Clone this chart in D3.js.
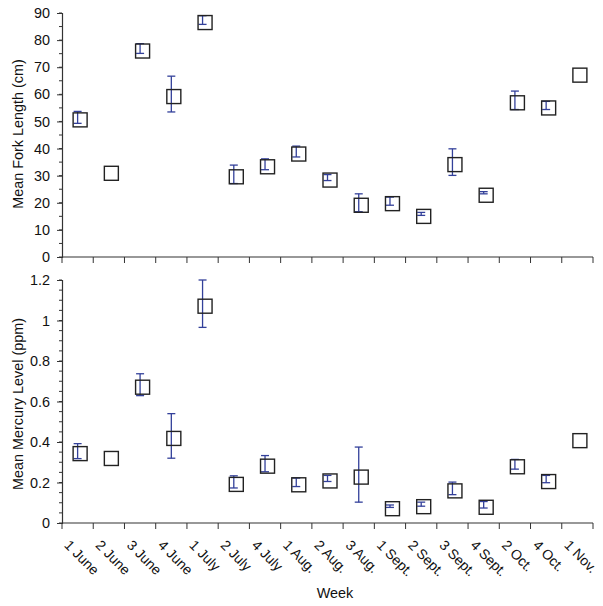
<!DOCTYPE html>
<html><head><meta charset="utf-8">
<script src="https://cdn.jsdelivr.net/npm/d3@7"></script>
<style>
body{margin:0;background:#fff;}
text{font-family:"Liberation Sans",Arial,sans-serif;fill:#111;}
</style></head>
<body><svg id="c" width="603" height="606"></svg>
<script>
const weeks = ["1 June","2 June","3 June","4 June","1 July","2 July","4 July","1 Aug.","2 Aug.","3 Aug.","1 Sept.","2 Sept.","3 Sept.","4 Sept.","2 Oct.","4 Oct.","1 Nov."];
const forkLength = [51.5,31.8,76.9,60.1,87.4,30.5,34.2,38.9,29.3,20.0,20.6,15.9,35.0,23.7,57.8,55.9,68.0];
const forkLengthErr = [2.2,null,1.8,6.6,1.6,3.4,2.0,2.0,1.1,3.3,1.5,0.55,4.9,0.4,3.4,1.5,null];
const mercury = [0.355,0.331,0.683,0.43,1.083,0.203,0.293,0.201,0.220,0.239,0.083,0.093,0.171,0.090,0.290,0.217,0.419];
const mercuryErr = [0.037,null,0.054,0.11,0.117,0.03,0.04,0.021,0.015,0.136,0.006,0.01,0.031,0.016,0.024,0.018,null];
const lengthTicks = [0,10,20,30,40,50,60,70,80,90];
const mercuryTicks = [0,0.2,0.4,0.6,0.8,1,1.2];

const svg = d3.select("#c");
const left = 62, right = 593;
const x = d3.scaleBand().domain(weeks).range([left, right]).padding(0);
const boxSize = 14, boxOff = 2.5, capW = 8;
const errColor = "#33409a", axisColor = "#333";
const fs = "14.4px";

function panel(cfg){
  const y = d3.scaleLinear().domain(cfg.domain).range(cfg.range);
  const g = svg.append("g");
  const minor = d3.range(cfg.domain[0], cfg.domain[1] + cfg.minorStep/2, cfg.minorStep);
  g.selectAll("line.minor").data(minor).join("line")
    .attr("x1", left - 3).attr("x2", left).attr("y1", d => y(d)).attr("y2", d => y(d))
    .attr("stroke", axisColor).attr("stroke-width", 1);
  const ax = g.append("g").attr("transform", `translate(${left},0)`)
    .call(d3.axisLeft(y).tickValues(cfg.ticks).tickSize(5).tickPadding(7).tickFormat(cfg.fmt));
  ax.select(".domain").attr("stroke", axisColor).attr("stroke-width", 1.2);
  ax.selectAll(".tick line").attr("stroke", axisColor);
  ax.selectAll(".tick text").style("font-size", fs).attr("fill", "#111");
  const base = cfg.range[0];
  g.append("line").attr("x1", left).attr("x2", right).attr("y1", base).attr("y2", base)
    .attr("stroke", axisColor).attr("stroke-width", 1.2);
  const bounds = weeks.map(w => x(w)).concat([right]);
  g.selectAll("line.xt").data(bounds).join("line")
    .attr("x1", d => d).attr("x2", d => d).attr("y1", base).attr("y2", base + 6)
    .attr("stroke", axisColor);
  g.append("text")
    .attr("transform", `translate(23,${cfg.titleY}) rotate(-90)`)
    .attr("text-anchor", "middle").style("font-size", fs)
    .text(cfg.title);
  const eg = g.append("g").attr("stroke", errColor).attr("stroke-width", 1.3);
  weeks.forEach((w, i) => {
    const e = cfg.err[i];
    if (e == null) return;
    const cx = x(w) + x.bandwidth()/2;
    const v = cfg.values[i];
    eg.append("line").attr("x1", cx).attr("x2", cx).attr("y1", y(v + e)).attr("y2", y(v - e));
    eg.append("line").attr("x1", cx - capW/2).attr("x2", cx + capW/2).attr("y1", y(v + e)).attr("y2", y(v + e));
    eg.append("line").attr("x1", cx - capW/2).attr("x2", cx + capW/2).attr("y1", y(v - e)).attr("y2", y(v - e));
  });
  g.selectAll("rect.m").data(cfg.values).join("rect")
    .attr("x", (d, i) => x(weeks[i]) + x.bandwidth()/2 + boxOff - boxSize/2)
    .attr("y", d => y(d) + boxOff - boxSize/2)
    .attr("width", boxSize).attr("height", boxSize)
    .attr("fill", "none").attr("stroke", "#222").attr("stroke-width", 1.4);
  return y;
}

panel({domain:[0,90], range:[257,13], ticks:lengthTicks, minorStep:5, fmt:d3.format("d"),
  values:forkLength, err:forkLengthErr, title:"Mean Fork Length (cm)", titleY:134});
panel({domain:[0,1.2], range:[523,280], ticks:mercuryTicks, minorStep:0.05, fmt:d => String(d),
  values:mercury, err:mercuryErr, title:"Mean Mercury Level (ppm)", titleY:404});

svg.append("g").selectAll("text").data(weeks).join("text")
  .attr("transform", d => `translate(${x(d) + x.bandwidth()/2 - 14},${546}) rotate(45)`)
  .attr("text-anchor", "start").style("font-size", "14px")
  .text(d => d);
svg.append("text").attr("x", 335).attr("y", 598).attr("text-anchor", "middle")
  .style("font-size", fs).text("Week");
</script></body></html>
